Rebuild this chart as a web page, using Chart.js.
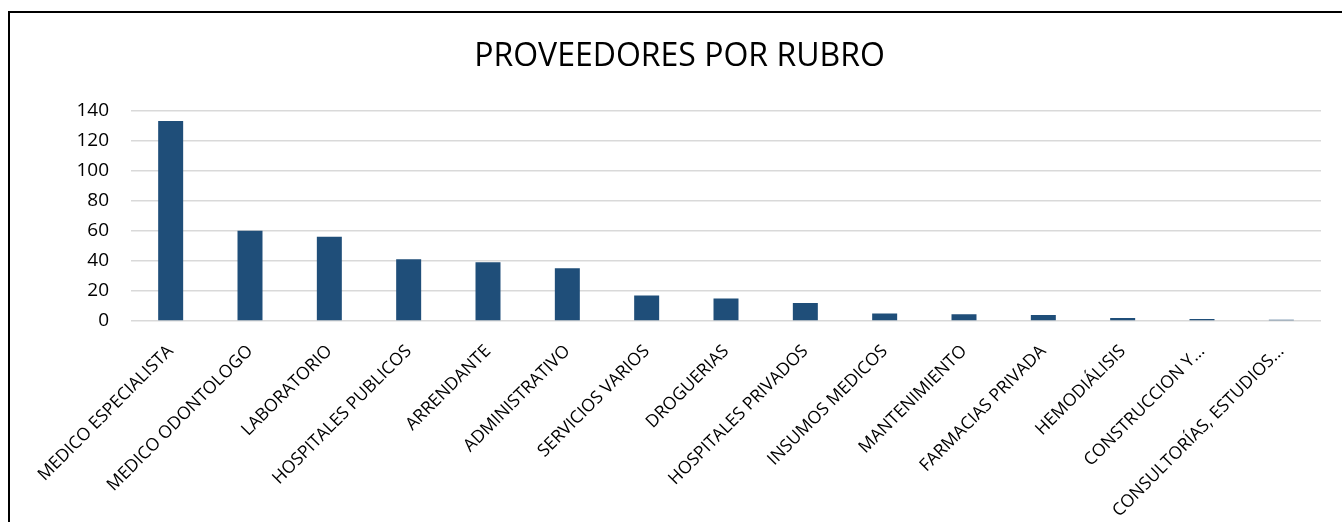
<!DOCTYPE html>
<html lang="es">
<head>
    <meta charset="UTF-8">
    <title>Proveedores por rubro</title>
    <script src="https://cdn.jsdelivr.net/npm/chart.js@4/dist/chart.umd.min.js"></script>
    <style>
        body { margin: 0; background: #fff; }
        #marco {
            position: absolute; left: 8px; top: 11px;
            width: 1400px; height: 600px;
            border-left: 2px solid #000; border-top: 2px solid #000;
        }
        #contenedor { position: absolute; left: 0; top: 0; width: 1342px; height: 522px; }
    </style>
</head>
<body>
    <div id="marco"></div>
    <div id="contenedor">
        <canvas id="grafica" width="1342" height="522"></canvas>
    </div>

    <script>
        // rubros y cantidad de proveedores
        const rubros = [
            "MEDICO ESPECIALISTA", "MEDICO ODONTOLOGO", "LABORATORIO", "HOSPITALES PUBLICOS",
            "ARRENDANTE", "ADMINISTRATIVO", "SERVICIOS VARIOS", "DROGUERIAS",
            "HOSPITALES PRIVADOS", "INSUMOS MEDICOS", "MANTENIMIENTO", "FARMACIAS PRIVADA",
            "HEMODIÁLISIS", "CONSTRUCCION Y...", "CONSULTORÍAS, ESTUDIOS..."
        ];
        const proveedores = [133, 60, 56, 41, 39, 35, 17, 15, 12, 5, 4.5, 4, 2, 1.3, 0.8];
        const ticksY = [0, 20, 40, 60, 80, 100, 120, 140];

        const grafica = new Chart(document.getElementById("grafica"), {
            type: 'bar',
            data: {
                labels: rubros,
                datasets: [{
                    label: "Proveedores",
                    data: proveedores,
                    backgroundColor: "#1F4E79",
                    borderWidth: 0,
                    categoryPercentage: 1,
                    barPercentage: 0.315
                }]
            },
            options: {
                responsive: false,
                animation: false,
                // el padding izquierdo centra el titulo como en el original
                layout: { padding: { top: 23, left: 38, right: 21, bottom: 0 } },
                plugins: {
                    legend: { display: false },
                    tooltip: { enabled: false },
                    title: {
                        display: true,
                        text: "PROVEEDORES POR RUBRO",
                        color: "#000",
                        font: { family: "'Open Sans'", size: 32, weight: 'normal' },
                        padding: { top: 15, bottom: 34 }
                    }
                },
                scales: {
                    y: {
                        min: ticksY[0],
                        max: ticksY[ticksY.length - 1],
                        afterBuildTicks: (eje) => { eje.ticks = ticksY.map(v => ({ value: v })); },
                        border: { display: false },
                        grid: { color: "#d9d9d9", lineWidth: 1.5, drawTicks: false },
                        ticks: {
                            color: "#000",
                            padding: 22,
                            font: { family: "'Open Sans'", size: 19 }
                        },
                        afterFit: (eje) => { eje.width = 93; }
                    },
                    x: {
                        border: { display: false },
                        grid: { display: false },
                        ticks: {
                            color: "#000",
                            autoSkip: false,
                            maxRotation: 45,
                            minRotation: 45,
                            padding: 12,
                            font: { family: "'Open Sans'", size: 17.5 }
                        },
                        afterFit: (eje) => { eje.height = 201; }
                    }
                }
            }
        });
    </script>
</body>
</html>
